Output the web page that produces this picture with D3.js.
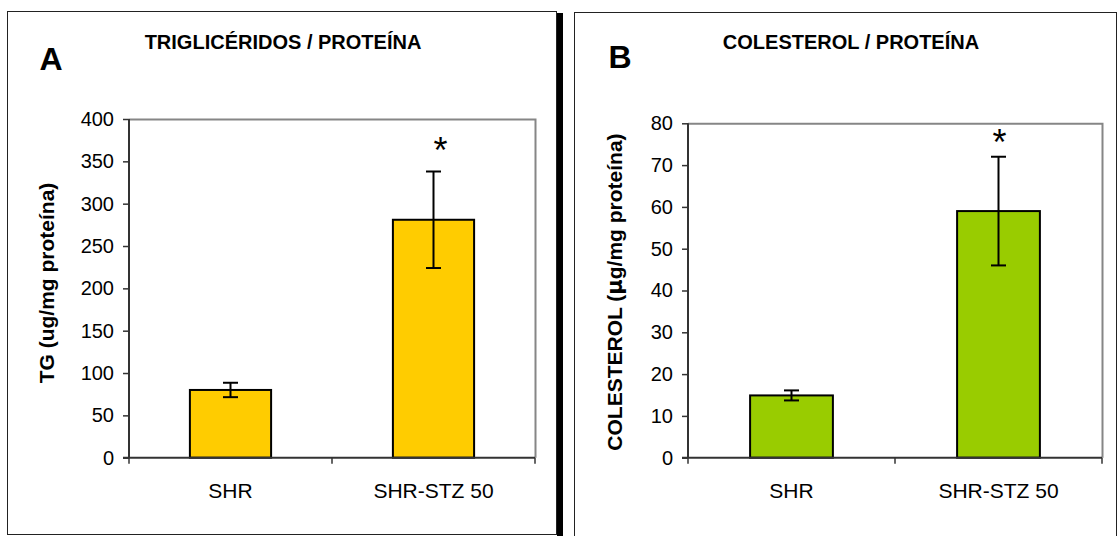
<!DOCTYPE html>
<html>
<head>
<meta charset="utf-8">
<script src="https://cdn.jsdelivr.net/npm/d3@7"></script>
<style>
  body { margin: 0; background: #fff; }
  svg text { font-family: "Liberation Sans", Arial, sans-serif; }
</style>
</head>
<body>
<svg id="chart" width="1119" height="536"></svg>
<script>
// data
const categories = ["SHR", "SHR-STZ 50"];

const tgMeans = [80, 281];
const tgErrors = [8.5, 57];
const tgTicks = [0, 50, 100, 150, 200, 250, 300, 350, 400];
const tgStars = [null, 369];

const colMeans = [14.9, 59];
const colErrors = [1.2, 13];
const colTicks = [0, 10, 20, 30, 40, 50, 60, 70, 80];
const colStars = [null, 76.5];

var svg = d3.select("#chart");

// panel frames
svg.append("rect").attr("x", 7.5).attr("y", 11.5).attr("width", 549).attr("height", 523)
    .attr("fill", "none").attr("stroke", "#222").attr("stroke-width", 1);
svg.append("rect").attr("x", 557).attr("y", 13).attr("width", 6).attr("height", 530)
    .attr("fill", "#000");
svg.append("rect").attr("x", 574.5).attr("y", 12.5).attr("width", 542).attr("height", 540)
    .attr("fill", "none").attr("stroke", "#222").attr("stroke-width", 1);

const drawPanel = (opt) => {
  var g = svg.append("g");

  var x = d3.scaleBand().domain(opt.categories).range([opt.left, opt.right]).paddingInner(0).paddingOuter(0);
  var y = d3.scaleLinear().domain([0, opt.max]).range([opt.bottom, opt.top]);
  var barW = x.bandwidth() * 0.4;

  // plot area border (gray top and right)
  g.append("path")
      .attr("d", "M" + opt.left + "," + (opt.top + 0.5) + "H" + (opt.right + 0.5) + "V" + opt.bottom)
      .attr("fill", "none").attr("stroke", "#868686").attr("stroke-width", 2);

  // bars
  g.selectAll(".bar")
      .data(opt.means)
    .enter().append("rect")
      .attr("class", "bar")
      .attr("x", (d, i) => x(opt.categories[i]) + (x.bandwidth() - barW) / 2)
      .attr("y", (d) => y(d))
      .attr("width", barW)
      .attr("height", (d) => y(0) - y(d))
      .attr("fill", opt.color)
      .attr("stroke", "#000")
      .attr("stroke-width", 2);

  // error bars
  var eb = g.selectAll(".err")
      .data(opt.means)
    .enter().append("g")
      .attr("class", "err")
      .attr("transform", (d, i) => "translate(" + (x(opt.categories[i]) + x.bandwidth() / 2) + ",0)");
  eb.append("line")
      .attr("y1", (d, i) => y(d + opt.errors[i]))
      .attr("y2", (d, i) => y(d - opt.errors[i]))
      .attr("stroke", "#000").attr("stroke-width", 2);
  eb.append("line")
      .attr("x1", -7.5).attr("x2", 7.5)
      .attr("y1", (d, i) => y(d + opt.errors[i]))
      .attr("y2", (d, i) => y(d + opt.errors[i]))
      .attr("stroke", "#000").attr("stroke-width", 2);
  eb.append("line")
      .attr("x1", -7.5).attr("x2", 7.5)
      .attr("y1", (d, i) => y(d - opt.errors[i]))
      .attr("y2", (d, i) => y(d - opt.errors[i]))
      .attr("stroke", "#000").attr("stroke-width", 2);

  // significance stars
  g.selectAll(".star")
      .data(opt.stars.map((s, i) => ({ s: s, c: opt.categories[i] })).filter((d) => d.s !== null))
    .enter().append("text")
      .attr("class", "star")
      .attr("x", (d) => x(d.c) + x.bandwidth() / 2 + opt.starDx)
      .attr("y", (d) => y(d.s))
      .attr("dy", "0.48em")
      .attr("text-anchor", "middle")
      .attr("font-size", 36)
      .attr("font-family", "'DejaVu Sans', sans-serif")
      .text("*");

  // y axis
  var yAxis = d3.axisLeft(y).tickValues(opt.ticks).tickSize(6).tickPadding(9);
  var ya = g.append("g")
      .attr("transform", "translate(" + opt.left + ",0)")
      .call(yAxis);
  ya.select(".domain").attr("stroke", "#333").attr("stroke-width", 2).attr("d", "M0," + opt.top + "V" + opt.bottom);
  ya.selectAll(".tick line").attr("stroke", "#333").attr("stroke-width", 1.5);
  ya.selectAll(".tick text").attr("font-size", 20).attr("fill", "#000")
      .attr("font-family", "'Liberation Sans', Arial, sans-serif");

  // x axis
  var xa = g.append("g")
      .attr("transform", "translate(0," + opt.bottom + ")");
  xa.append("line").attr("x1", opt.left - 6).attr("x2", opt.right).attr("stroke", "#333").attr("stroke-width", 2);
  xa.selectAll(".xt")
      .data(opt.categories.concat([null]))
    .enter().append("line")
      .attr("class", "xt")
      .attr("x1", (d) => d === null ? opt.right : x(d))
      .attr("x2", (d) => d === null ? opt.right : x(d))
      .attr("y1", 0).attr("y2", 6)
      .attr("stroke", "#333").attr("stroke-width", 1.5);
  xa.selectAll(".xl")
      .data(opt.categories)
    .enter().append("text")
      .attr("class", "xl")
      .attr("x", (d) => x(d) + x.bandwidth() / 2)
      .attr("y", 40)
      .attr("text-anchor", "middle")
      .attr("font-size", 21)
      .text((d) => d);

  // y title
  g.append("text")
      .attr("transform", "translate(" + opt.ytX + "," + opt.ytY + ") rotate(-90)")
      .attr("text-anchor", "middle")
      .attr("font-size", 21)
      .attr("font-weight", "bold")
      .html(opt.ytitle);

  // title and panel letter
  g.append("text")
      .attr("x", opt.titleX).attr("y", 49)
      .attr("text-anchor", "middle")
      .attr("font-size", 20)
      .attr("font-weight", "bold")
      .text(opt.title);
  g.append("text")
      .attr("x", opt.letterX).attr("y", opt.letterY)
      .attr("text-anchor", "middle")
      .attr("font-size", 32)
      .attr("font-weight", "bold")
      .text(opt.letter);
};

drawPanel({
  categories: categories, means: tgMeans, errors: tgErrors, ticks: tgTicks, stars: tgStars,
  max: 400, left: 129, right: 535, top: 119, bottom: 457.7,
  color: "#FFCC00", starDx: 7,
  ytitle: "TG (ug/mg proteína)", ytX: 54, ytY: 283,
  title: "TRIGLICÉRIDOS / PROTEÍNA", titleX: 283,
  letter: "A", letterX: 51, letterY: 70
});

drawPanel({
  categories: categories, means: colMeans, errors: colErrors, ticks: colTicks, stars: colStars,
  max: 80, left: 688, right: 1102, top: 123.3, bottom: 457.7,
  color: "#99CC00", starDx: 1,
  ytitle: "COLESTEROL (<tspan font-family='DejaVu Sans'>µ</tspan>g/mg proteína)", ytX: 622, ytY: 292,
  title: "COLESTEROL / PROTEÍNA", titleX: 851,
  letter: "B", letterX: 620, letterY: 68
});
</script>
</body>
</html>
